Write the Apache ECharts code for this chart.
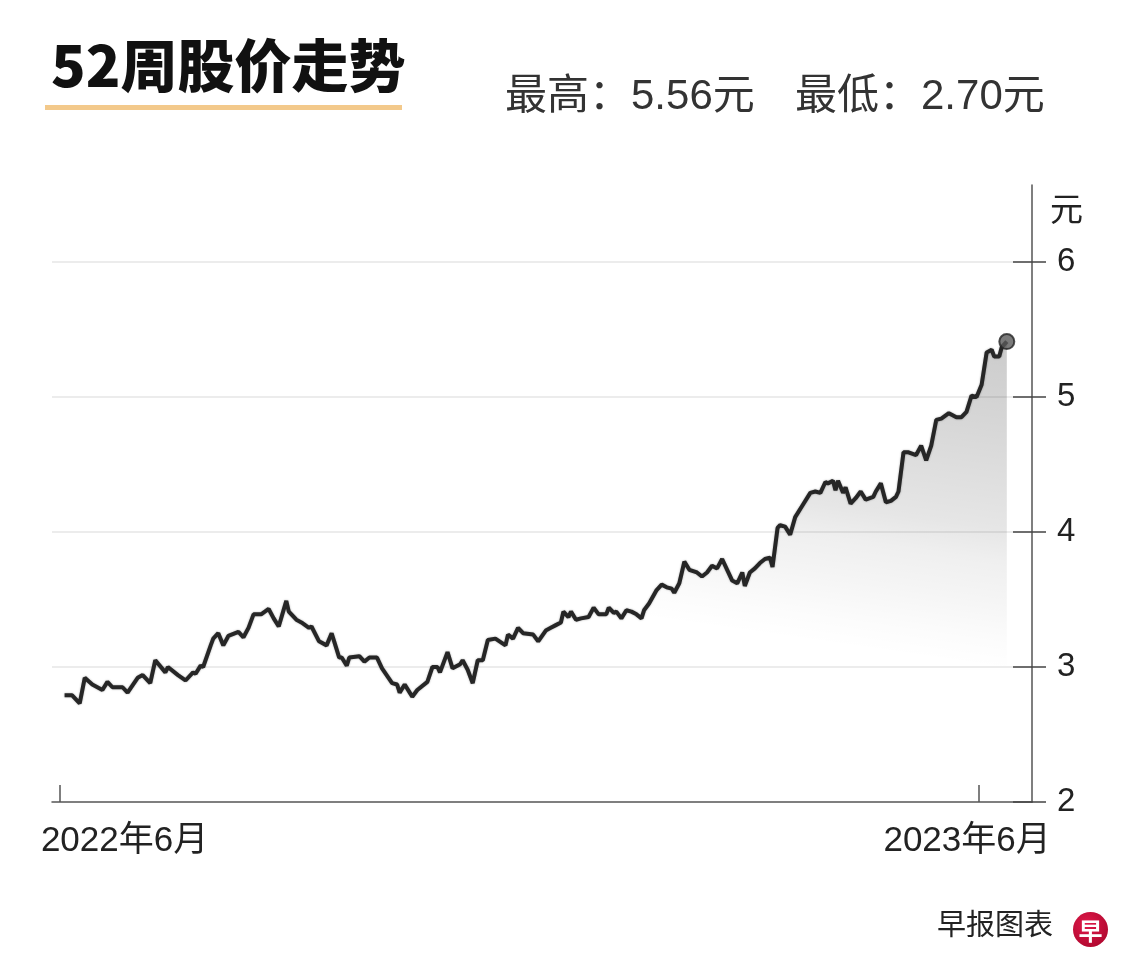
<!DOCTYPE html>
<html>
<head>
<meta charset="utf-8">
<title>52周股价走势</title>
<script src="https://cdn.jsdelivr.net/npm/echarts@6/dist/echarts.min.js"></script>
<style>
  html, body { margin: 0; padding: 0; background: #fff; }
  #main { width: 1140px; height: 974px; }
</style>
</head>
<body>
<div id="main"></div>
<script>
var chartDom = document.getElementById('main');
var myChart = echarts.init(chartDom);
var option;

// days since 2022-06-01
const days = [
  2, 5, 8, 10, 13, 17, 19, 21, 25, 27, 31, 33, 36, 38, 42, 43, 47, 50, 53, 54,
  56, 57, 60, 61, 63, 65, 67, 71, 73, 75, 77, 80, 83, 85, 87, 90, 91, 94, 96, 99,
  100, 103, 106, 108, 109, 111, 112, 114, 115, 119, 121, 123, 126, 128, 132, 134, 135, 137, 139, 140,
  142, 146, 148, 150, 151, 154, 156, 159, 160, 162, 164, 166, 168, 170, 173, 177, 178, 180, 182, 184,
  188, 190, 193, 195, 197, 199, 200, 202, 203, 205, 207, 210, 212, 214, 217, 218, 220, 221, 223, 225,
  227, 229, 231, 232, 234, 237, 239, 241, 243, 244, 246, 248, 250, 253, 255, 257, 259, 261, 263, 265,
  267, 269, 271, 272, 274, 276, 278, 280, 282, 283, 285, 286, 288, 290, 292, 295, 298, 300, 302, 304,
  305, 307, 308, 309, 311, 312, 314, 316, 318, 320, 323, 324, 326, 328, 330, 332, 333, 335, 337, 340,
  342, 344, 346, 348, 350, 353, 356, 358, 360, 362, 364, 366, 368, 370, 371, 373, 374, 376
];

// closing price, 元
const prices = [
  2.79, 2.79, 2.73, 2.92, 2.87, 2.83, 2.89, 2.85, 2.85, 2.81, 2.92, 2.94, 2.88, 3.05, 2.96, 3.00, 2.94, 2.90, 2.96, 2.95,
  3.01, 3.00, 3.16, 3.21, 3.25, 3.16, 3.23, 3.26, 3.22, 3.29, 3.39, 3.39, 3.43, 3.36, 3.30, 3.49, 3.41, 3.35, 3.33, 3.29,
  3.30, 3.19, 3.16, 3.25, 3.19, 3.07, 3.07, 3.01, 3.07, 3.08, 3.04, 3.07, 3.07, 2.99, 2.88, 2.87, 2.81, 2.87, 2.81, 2.78,
  2.83, 2.89, 3.00, 3.00, 2.96, 3.11, 2.99, 3.02, 3.05, 2.98, 2.88, 3.05, 3.05, 3.20, 3.21, 3.16, 3.24, 3.21, 3.29, 3.25,
  3.24, 3.19, 3.27, 3.29, 3.31, 3.33, 3.41, 3.37, 3.41, 3.35, 3.36, 3.37, 3.44, 3.39, 3.39, 3.44, 3.40, 3.41, 3.36, 3.42,
  3.41, 3.39, 3.36, 3.42, 3.47, 3.57, 3.61, 3.59, 3.58, 3.55, 3.62, 3.78, 3.72, 3.70, 3.67, 3.70, 3.75, 3.73, 3.80, 3.72,
  3.64, 3.62, 3.70, 3.60, 3.70, 3.73, 3.77, 3.80, 3.81, 3.74, 4.03, 4.05, 4.04, 3.98, 4.11, 4.20, 4.29, 4.30, 4.29, 4.37,
  4.36, 4.38, 4.31, 4.38, 4.29, 4.33, 4.21, 4.25, 4.30, 4.24, 4.26, 4.30, 4.36, 4.22, 4.23, 4.26, 4.30, 4.59, 4.59, 4.57,
  4.64, 4.53, 4.64, 4.83, 4.84, 4.88, 4.85, 4.85, 4.89, 5.01, 5.00, 5.09, 5.33, 5.35, 5.30, 5.30, 5.37, 5.41
];

const yTicks = [2, 3, 4, 5, 6];
const xTickDays = [0, 365];
const xTickLabels = ['2022年6月', '2023年6月'];

const high = '5.56';
const low = '2.70';

const cjk = "'Liberation Sans', 'Noto Sans CJK SC', sans-serif";

const seriesData = days.map(function (d, i) { return [d, prices[i]]; });
const last = seriesData[seriesData.length - 1];

option = {
    backgroundColor: '#fff',
    animation: false,
    title: [
        {
            text: '52周股价走势',
            left: 46,
            top: 32,
            textStyle: { fontFamily: "'Noto Sans CJK SC', sans-serif", fontWeight: 900, fontSize: 57, color: '#111' }
        },
        {
            text: '最高：' + high + '元',
            left: 500,
            top: 71,
            textStyle: { fontFamily: cjk, fontWeight: 'normal', fontSize: 42, color: '#333' }
        },
        {
            text: '最低：' + low + '元',
            left: 790,
            top: 71,
            textStyle: { fontFamily: cjk, fontWeight: 'normal', fontSize: 42, color: '#333' }
        },
        {
            text: '早报图表',
            left: 932,
            top: 904,
            textStyle: { fontFamily: "'Noto Sans CJK SC', sans-serif", fontWeight: 'normal', fontSize: 29, color: '#222' }
        }
    ],
    grid: {
        left: 52,
        right: 108,
        top: 185,
        bottom: 172
    },
    xAxis: {
        type: 'value',
        min: -3,
        max: 386,
        splitLine: { show: false },
        axisLine: { show: true, onZero: false, lineStyle: { color: '#555', width: 1.5 } },
        axisTick: {
            show: true,
            inside: true,
            length: 17,
            customValues: xTickDays,
            lineStyle: { color: '#555', width: 1.5 }
        },
        axisLabel: {
            customValues: xTickDays,
            margin: 22,
            formatter: function (v) {
                var i = xTickDays.indexOf(v);
                if (i < 0) return '';
                return (i === 0 ? '{l|' : '{r|') + xTickLabels[i] + '}';
            },
            rich: {
                l: { fontFamily: cjk, fontSize: 35, color: '#222', padding: [0, 0, 0, 130] },
                r: { fontFamily: cjk, fontSize: 35, color: '#222', padding: [0, 24, 0, 0] }
            }
        }
    },
    yAxis: [
        {
            type: 'value',
            position: 'right',
            min: 2,
            max: 6.57,
            interval: 1,
            name: '元',
            nameLocation: 'end',
            nameGap: -10,
            nameTextStyle: {
                fontFamily: cjk, fontSize: 33, color: '#222',
                align: 'left', verticalAlign: 'top', padding: [0, 0, 0, 18]
            },
            axisLine: { show: true, onZero: false, lineStyle: { color: '#555', width: 1.5 } },
            axisTick: {
                show: true,
                length: 14,
                customValues: yTicks,
                lineStyle: { color: '#444', width: 1.5 }
            },
            axisLabel: {
                customValues: yTicks,
                margin: 25,
                fontFamily: cjk,
                fontSize: 33,
                color: '#222'
            },
            splitLine: {
                show: true,
                showMinLine: false,
                lineStyle: { color: '#ececec', width: 2 }
            }
        },
        {
            // inner half of the crossing ticks
            type: 'value',
            position: 'right',
            offset: 0,
            min: 2,
            max: 6.57,
            interval: 1,
            axisLine: { show: false, onZero: false },
            axisTick: {
                show: true,
                inside: true,
                length: 19,
                customValues: yTicks,
                lineStyle: { color: '#444', width: 1.5 }
            },
            axisLabel: { show: false },
            splitLine: { show: false }
        }
    ],
    series: [
        {
            type: 'line',
            data: seriesData,
            symbol: 'none',
            lineStyle: { color: '#262626', width: 4, shadowBlur: 2, shadowColor: 'rgba(0,0,0,0.35)' },
            areaStyle: {
                // fades downwards and a little towards the left
                color: new echarts.graphic.LinearGradient(1, 0, 0.93, 1, [
                    { offset: 0, color: 'rgba(0,0,0,0.29)' },
                    { offset: 0.17, color: 'rgba(0,0,0,0.23)' },
                    { offset: 0.40, color: 'rgba(0,0,0,0.14)' },
                    { offset: 0.47, color: 'rgba(0,0,0,0.09)' },
                    { offset: 0.55, color: 'rgba(0,0,0,0.06)' },
                    { offset: 0.64, color: 'rgba(0,0,0,0.02)' },
                    { offset: 0.70, color: 'rgba(0,0,0,0)' },
                    { offset: 1, color: 'rgba(0,0,0,0)' }
                ])
            },
            z: 2
        },
        {
            type: 'scatter',
            data: [last],
            symbol: 'circle',
            symbolSize: 15,
            itemStyle: { color: '#5a5a5a', borderColor: '#262626', borderWidth: 2 },
            z: 3
        }
    ],
    graphic: {
        elements: [
            {
                // orange underline below the title
                type: 'rect',
                left: 45,
                top: 105,
                shape: { width: 357, height: 5 },
                style: { fill: '#f3c98b' }
            },
            {
                type: 'group',
                left: 1073,
                top: 912,
                children: [
                    {
                        type: 'circle',
                        shape: { cx: 17, cy: 17, r: 17.5 },
                        style: {
                            fill: new echarts.graphic.RadialGradient(0.4, 0.35, 0.7, [
                                { offset: 0, color: '#e0194a' },
                                { offset: 1, color: '#b0082f' }
                            ])
                        }
                    },
                    {
                        type: 'text',
                        x: 17,
                        y: 18,
                        style: {
                            text: '早',
                            font: 'bold 24px "Noto Sans CJK SC"',
                            fill: '#fff',
                            align: 'center',
                            verticalAlign: 'middle'
                        }
                    }
                ]
            }
        ]
    }
};

myChart.setOption(option);
</script>
</body>
</html>
